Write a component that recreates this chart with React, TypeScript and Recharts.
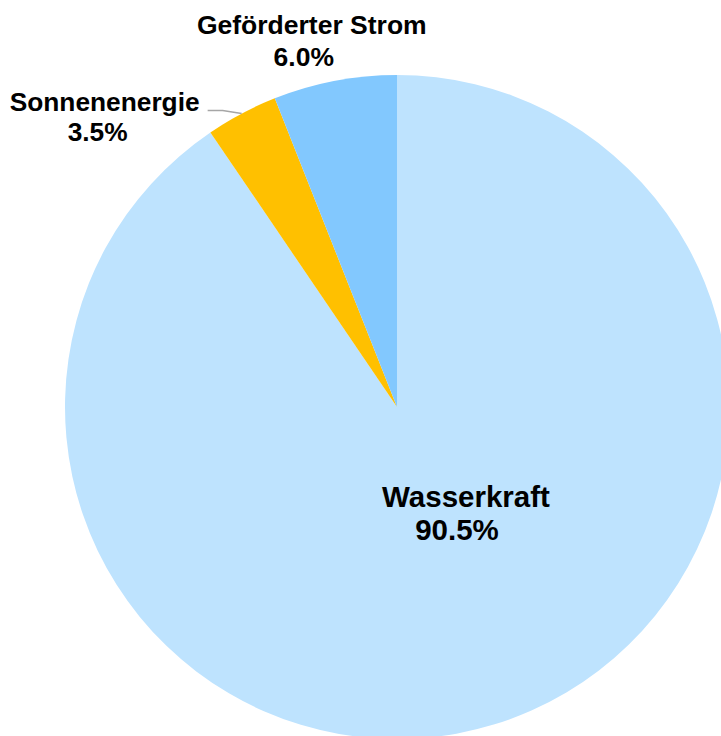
import { PieChart, Pie, Cell } from "recharts"

const sources = ["Wasserkraft", "Sonnenenergie", "Geförderter Strom"]
const shares = [90.5, 3.5, 6.0]
const colors = ["#BEE3FE", "#FFC000", "#82C8FE"]

const chartData = sources.map((name, i) => ({ name, value: shares[i] }))

const RAD = Math.PI / 180

// where each label sits, relative to its anchor (inside = pie center, outside = slice edge)
const labelPlace: Record<string, { inside: boolean; dx: number; dy: number; size: number; gap: number; shift: number; leader?: boolean }> = {
  "Wasserkraft": { inside: true, dx: 69, dy: 100, size: 29.5, gap: 33, shift: -9 },
  "Sonnenenergie": { inside: false, dx: -137, dy: -3, size: 26.3, gap: 30, shift: -7, leader: true },
  "Geförderter Strom": { inside: false, dx: -23, dy: -47, size: 26.5, gap: 32, shift: -8 }
}

function renderLabel(props: any) {
  const { cx, cy, midAngle, outerRadius, name, value } = props
  const p = labelPlace[name]
  const ex = cx + outerRadius * Math.cos(-midAngle * RAD)
  const ey = cy + outerRadius * Math.sin(-midAngle * RAD)
  const ax = p.inside ? cx : ex
  const ay = p.inside ? cy : ey
  const x = ax + p.dx
  const y = ay + p.dy
  return (
    <g>
      {p.leader && (
        <polyline
          points={`${ex},${ey} ${ex - 19},${y} ${x + 103},${y}`}
          fill="none"
          stroke="#A6A6A6"
          strokeWidth={1.5}
        />
      )}
      <text
        x={x}
        y={y}
        textAnchor="middle"
        fontFamily="'Liberation Sans', Arial, sans-serif"
        fontWeight="bold"
        fontSize={p.size}
        fill="#000"
      >
        <tspan x={x} y={y}>{name}</tspan>
        <tspan x={x + p.shift} y={y + p.gap}>{`${Number(value).toFixed(1)}%`}</tspan>
      </text>
    </g>
  )
}

export default function App() {
  return (
    <div style={{ position: "absolute", left: 0, top: 0, width: 721, height: 736, background: "#fff" }}>
      <PieChart width={721} height={736}>
        <Pie
          data={chartData}
          dataKey="value"
          nameKey="name"
          cx={392}
          cy={402}
          outerRadius={332}
          startAngle={90}
          endAngle={-270}
          stroke="none"
          label={renderLabel}
          labelLine={false}
          isAnimationActive={false}
        >
          {chartData.map((d, i) => (
            <Cell key={d.name} fill={colors[i]} />
          ))}
        </Pie>
      </PieChart>
    </div>
  )
}
